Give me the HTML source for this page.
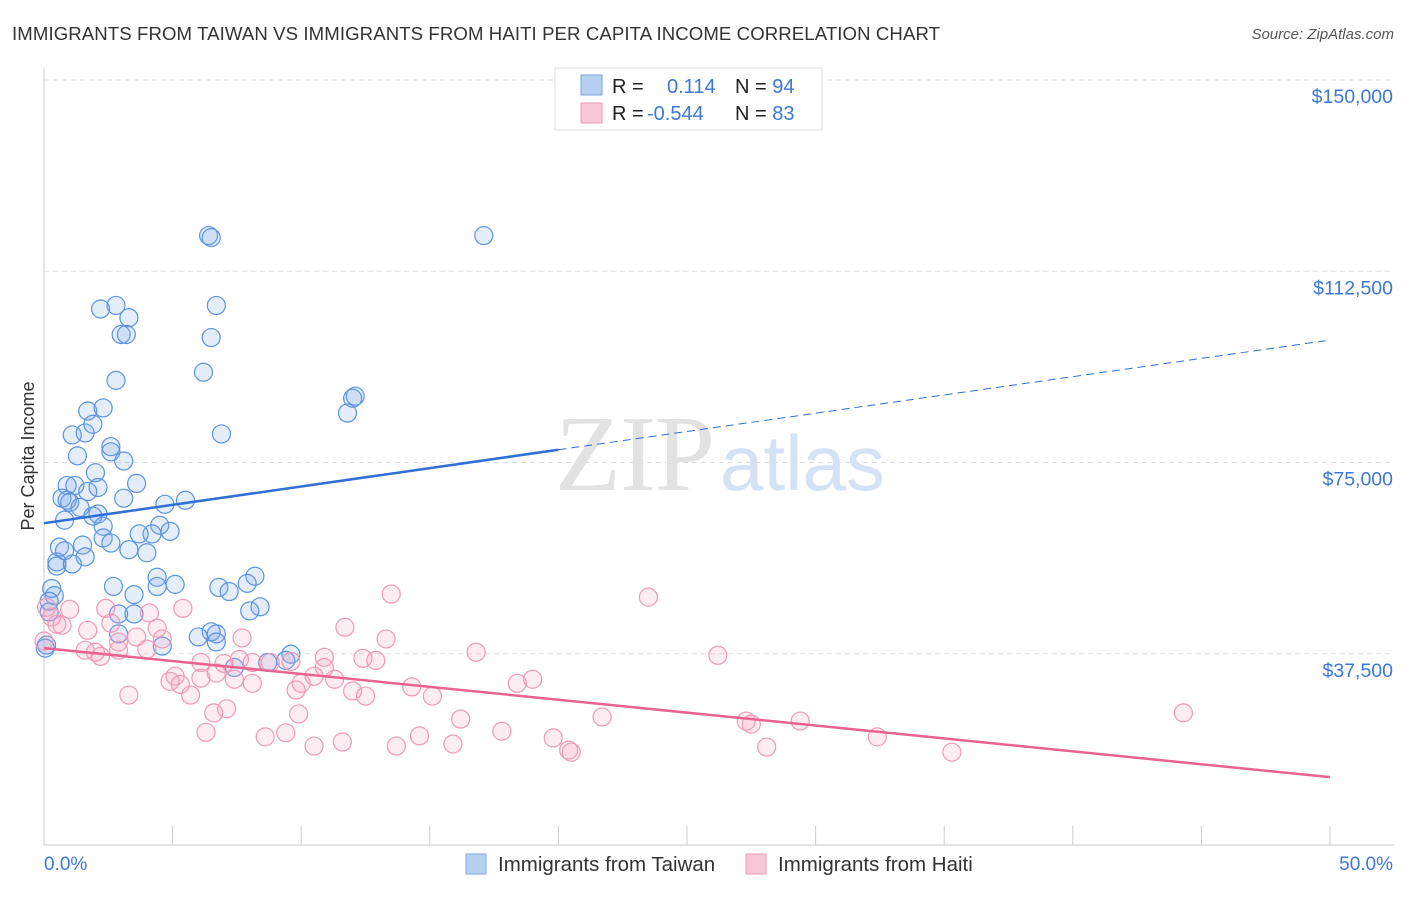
<!DOCTYPE html>
<html><head><meta charset="utf-8">
<style>
body{margin:0;background:#fff;font-family:"Liberation Sans",sans-serif;}
svg text{font-family:"Liberation Sans",sans-serif;}
</style></head>
<body>
<svg width="1406" height="892" xmlns="http://www.w3.org/2000/svg">
<text x="12" y="40" font-size="18.6" fill="#333" textLength="928">IMMIGRANTS FROM TAIWAN VS IMMIGRANTS FROM HAITI PER CAPITA INCOME CORRELATION CHART</text>
<text x="1394" y="39" font-size="15" fill="#555" font-style="italic" text-anchor="end">Source: ZipAtlas.com</text>
<g id="grid"></g>
<g id="yticks"></g>
<g id="xaxis"></g>
<text x="555" y="490" font-size="108" fill="#e2e2e2" style="font-family:'Liberation Serif',serif" textLength="160">ZIP</text>
<text x="720" y="490" font-size="78" fill="#d3e2f5" textLength="165">atlas</text>
<text transform="translate(34,456) rotate(-90)" font-size="18" fill="#333" text-anchor="middle">Per Capita Income</text>
<g id="pts"></g>
<g id="lines"></g>
<g>
<rect x="555" y="68" width="267" height="62" fill="#fff" stroke="#ddd"/>
<rect x="581" y="75" width="21" height="20" fill="#b7d0f2" stroke="#7aa6e6"/>
<rect x="581" y="103" width="21" height="20" fill="#f9c6d6" stroke="#ee9ab5"/>
<text x="612" y="93" font-size="20" fill="#222">R = <tspan x="667" fill="#3b78d8">0.114</tspan><tspan x="735">N = </tspan><tspan fill="#3b78d8">94</tspan></text>
<text x="612" y="120" font-size="20" fill="#222">R = <tspan x="647" fill="#3b78d8">-0.544</tspan><tspan x="735">N = </tspan><tspan fill="#3b78d8">83</tspan></text>
</g>
<g>
<rect x="466" y="854" width="20" height="20" fill="#b7d0f2" stroke="#7aa6e6"/>
<text x="498" y="871" font-size="20.5" fill="#333">Immigrants from Taiwan</text>
<rect x="746" y="854" width="20" height="20" fill="#f9c6d6" stroke="#ee9ab5"/>
<text x="778" y="871" font-size="20.5" fill="#333">Immigrants from Haiti</text>
</g>
</svg>
<script>
const yTicks=[37500,75000,112500,150000];
const yTickLabels=["$37,500","$75,000","$112,500","$150,000"];
const xTicks=[0,5,10,15,20,25,30,35,40,45,50];
const taiwanX=[6.4,6.5,17.1,2.8,2.2,6.7,3.3,3.0,3.2,6.5,2.8,6.2,12.1,12.0,11.8,1.7,2.3,6.9,1.1,1.6,1.9,2.6,2.6,1.3,3.1,2.0,3.6,0.9,1.2,1.7,2.1,0.7,1.0,3.1,5.5,1.4,0.9,4.7,2.1,1.9,0.8,2.3,4.5,4.9,2.3,2.6,1.5,4.2,3.7,0.6,0.8,4.0,3.3,1.6,0.5,0.5,1.1,4.4,5.1,8.2,7.9,4.4,6.8,2.7,7.2,0.3,3.5,0.4,0.2,8.4,8.0,2.9,3.5,0.2,6.5,6.7,6.0,2.9,4.6,6.7,9.6,9.4,8.7,7.4,0.1,0.05];
const taiwanY=[119500,119100,119500,105800,105100,105800,103400,100100,100100,99500,91100,92700,88000,87600,84700,85100,85700,80600,80400,80800,82500,78100,77100,76300,75300,73000,70900,70500,70500,69300,70100,68000,67200,68000,67600,66200,67600,66800,64900,64500,63700,62500,62700,61500,60200,59200,58800,61000,61000,58400,57700,57300,57900,56500,55500,54700,55100,52500,51100,52700,51300,50700,50500,50700,49700,50300,49100,48900,47800,46700,45900,45300,45300,45700,41800,41400,40800,41400,39000,39800,37400,36200,35800,34800,39200,38600];
const haitiX=[13.5,23.5,0.1,1.0,2.4,4.1,5.4,0.3,0.7,2.6,0.5,1.7,4.4,3.6,4.6,2.9,11.7,13.3,7.7,16.8,26.2,2.0,2.2,1.6,4.0,2.9,6.1,7.0,7.6,8.1,8.8,9.6,10.9,10.9,12.4,12.9,10.5,5.1,4.9,5.3,6.7,7.4,8.1,6.1,11.3,19.0,18.4,10.0,3.3,5.7,12.0,12.5,14.3,9.8,15.1,7.1,6.6,9.9,16.2,21.7,27.3,29.4,44.3,27.5,6.3,8.6,9.4,10.5,11.6,13.7,14.6,15.9,17.8,19.8,20.4,20.5,28.1,32.4,35.3,0.0];
const haitiY=[49200,48600,46600,46200,46400,45500,46400,44700,43100,43500,43300,42100,42500,40800,40400,39800,42700,40400,40600,37800,37200,37800,37000,38200,38400,38200,35800,35600,36400,35800,35800,36000,36800,34800,36600,36200,33100,33100,32100,31500,33700,32500,31700,32700,32500,32500,31700,31700,29400,29400,30200,29200,31000,30400,29200,26700,25900,25700,24700,25100,24300,24300,25900,23700,22100,21200,22000,19400,20200,19400,21400,19800,22300,21000,18600,18200,19200,21200,18200,40000];
const taiwanTrend=[[0,63100],[20,77500]], taiwanDash=[[20,77500],[50,99000]];
const haitiTrend=[[0,38600],[50,13300]];
const NS="http://www.w3.org/2000/svg";
const X=v=>44+v/50*1286, Y=v=>845-v/150000*765;
function mk(t,a,p){const e=document.createElementNS(NS,t);for(const k in a)e.setAttribute(k,a[k]);p.appendChild(e);return e;}
const grid=document.getElementById('grid'),yt=document.getElementById('yticks'),xa=document.getElementById('xaxis');
yTicks.forEach((v,i)=>{
 const l=mk('line',{x1:44,x2:1394,y1:Y(v),y2:Y(v),stroke:'#ddd','stroke-dasharray':'5,4'},grid);
 
 
 const t=mk('text',{x:1393,y:Y(v)+23,'font-size':19.5,fill:'#3b78d8','text-anchor':'end'},yt);
 t.textContent=yTickLabels[i];
 
 
});
const ax=mk('line',{x1:44,x2:1394,y1:845,y2:845,stroke:'#ccc'},xa);

const ay=mk('line',{x1:44,x2:44,y1:68,y2:845,stroke:'#ccc'},xa);

xTicks.forEach(v=>{const t=mk('line',{x1:X(v),x2:X(v),y1:826,y2:845,stroke:'#ccc'},xa);
 
 });
const x0=mk('text',{x:44,y:870,'font-size':19,fill:'#3b78d8'},xa);x0.textContent='0.0%';

const x1=mk('text',{x:1393,y:870,'font-size':19,fill:'#3b78d8','text-anchor':'end'},xa);x1.textContent='50.0%';

const pts=document.getElementById('pts');
taiwanX.forEach((v,i)=>{const c=mk('circle',{cx:X(v),cy:Y(taiwanY[i]),r:9,fill:'rgba(120,166,230,0.2)',stroke:'#5b93e0','stroke-width':1.2},pts);
 
 });
haitiX.forEach((v,i)=>{const c=mk('circle',{cx:X(v),cy:Y(haitiY[i]),r:9,fill:'rgba(244,160,190,0.2)',stroke:'#ee9ab5','stroke-width':1.2},pts);
 
 });
const ln=document.getElementById('lines');
const a=mk('line',{x1:X(taiwanTrend[0][0]),y1:Y(taiwanTrend[0][1]),x2:X(taiwanTrend[1][0]),y2:Y(taiwanTrend[1][1]),stroke:'#2f6fd6','stroke-width':2.5},ln);


const b=mk('line',{x1:X(taiwanDash[0][0]),y1:Y(taiwanDash[0][1]),x2:X(taiwanDash[1][0]),y2:Y(taiwanDash[1][1]),stroke:'#2f6fd6','stroke-width':1,'stroke-dasharray':'8,5'},ln);


const c=mk('line',{x1:X(haitiTrend[0][0]),y1:Y(haitiTrend[0][1]),x2:X(haitiTrend[1][0]),y2:Y(haitiTrend[1][1]),stroke:'#e8638f','stroke-width':2.5},ln);


</script>
</body></html>
